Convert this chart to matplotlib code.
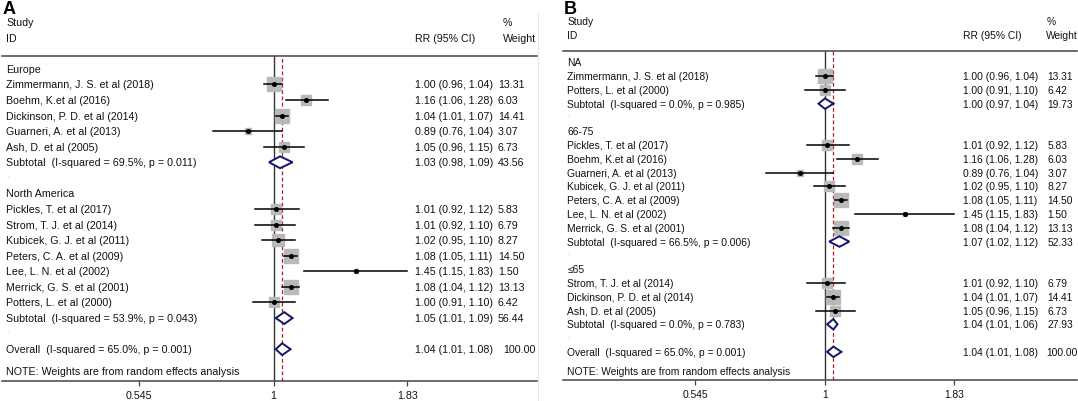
import numpy as np
import matplotlib.pyplot as plt
from matplotlib.lines import Line2D

plt.rcParams['font.family'] = ['Liberation Sans', 'DejaVu Sans']

# study level results: RR, 95% CI and % weight (random effects)
study = ["Zimmermann, J. S. et al (2018)", "Boehm, K.et al (2016)",
         "Dickinson, P. D. et al (2014)", "Guarneri, A. et al (2013)",
         "Ash, D. et al (2005)", "Pickles, T. et al (2017)",
         "Strom, T. J. et al (2014)", "Kubicek, G. J. et al (2011)",
         "Peters, C. A. et al (2009)", "Lee, L. N. et al (2002)",
         "Merrick, G. S. et al (2001)", "Potters, L. et al (2000)"]
rr = [1.00, 1.16, 1.04, 0.89, 1.05, 1.01, 1.01, 1.02, 1.08, 1.45, 1.08, 1.00]
lo = [0.96, 1.06, 1.01, 0.76, 0.96, 0.92, 0.92, 0.95, 1.05, 1.15, 1.04, 0.91]
hi = [1.04, 1.28, 1.07, 1.04, 1.15, 1.12, 1.10, 1.10, 1.11, 1.83, 1.12, 1.10]
wt = [13.31, 6.03, 14.41, 3.07, 6.73, 5.83, 6.79, 8.27, 14.50, 1.50, 13.13, 6.42]

# panel A: by region
groups_a = ["Europe", "North America"]
members_a = [[0, 1, 2, 3, 4], [5, 6, 7, 8, 9, 10, 11]]
sub_i2_a = ["69.5", "53.9"]
sub_p_a = ["0.011", "0.043"]
sub_rr_a = [1.03, 1.05]
sub_lo_a = [0.98, 1.01]
sub_hi_a = [1.09, 1.09]
sub_wt_a = [43.56, 56.44]

# panel B: by age
groups_b = ["NA", "66-75", "\u226465"]
members_b = [[0, 11], [5, 1, 3, 7, 8, 9, 10], [6, 2, 4]]
sub_i2_b = ["0.0", "66.5", "0.0"]
sub_p_b = ["0.985", "0.006", "0.783"]
sub_rr_b = [1.00, 1.07, 1.04]
sub_lo_b = [0.97, 1.02, 1.01]
sub_hi_b = [1.04, 1.12, 1.06]
sub_wt_b = [19.73, 52.33, 27.93]

# overall pooled estimate
overall = [1.04, 1.01, 1.08, 100.00]
overall_i2, overall_p = "65.0", "0.001"

ticks = [0.545, 1, 1.83]
tick_labels = ["0.545", "1", "1.83"]

W, H = 1078, 402
fig = plt.figure(figsize=(W / 100, H / 100), dpi=100)

TXT = "#111111"
BOX = "#b9b9b9"
NAVY = "#15156b"


def rr_text(r, l, h):
    return f"{r:.2f} ({l:.2f}, {h:.2f})"


def diamond(ax, y, r, l, h, hh):
    ax.fill([l, r, h, r, l], [y, y - hh, y, y + hh, y], facecolor="white",
            edgecolor=NAVY, lw=1.4, zorder=4)


def forest(px, xlim, groups, members, s_i2, s_p, s_rr, s_lo, s_hi, s_wt,
           fs, col_x, box_k, label):
    left, right, top, bottom = px
    ax = fig.add_axes([left / W, 1 - bottom / H, (right - left) / W, (bottom - top) / H])
    ax.set_xscale("log")
    ax.set_xlim(*xlim)
    tr = ax.get_yaxis_transform()
    xl, xr, xw, xh = col_x
    hh = 0.38

    def put(x, y, s, **kw):
        ax.text(x, y, s, transform=tr, fontsize=kw.pop("fs", fs),
                color=kw.pop("color", TXT), va="center", **kw)

    row = 0
    for g, idx, i2, p, r, l, h, w in zip(groups, members, s_i2, s_p, s_rr, s_lo, s_hi, s_wt):
        put(xl, row, g)
        row += 1
        for i in idx:
            ax.plot([rr[i]], [row], marker="s", ms=box_k * np.sqrt(wt[i]),
                    color=BOX, mec=BOX, zorder=2)
            ax.plot([lo[i], hi[i]], [row, row], color="black", lw=1.1, zorder=3)
            ax.plot([rr[i]], [row], marker="o", ms=2.6, color="black", zorder=3)
            put(xl, row, study[i])
            put(xr, row, rr_text(rr[i], lo[i], hi[i]))
            put(xw, row, f"{wt[i]:.2f}")
            row += 1
        diamond(ax, row, r, l, h, hh)
        put(xl, row, f"Subtotal  (I-squared = {i2}%, p = {p})")
        put(xr, row, rr_text(r, l, h))
        put(xw, row, f"{w:.2f}")
        row += 1
        put(xl, row - 0.2, ".", fs=fs - 2, color="#9a9a9a")
        row += 1

    r, l, h, w = overall
    diamond(ax, row, r, l, h, hh)
    put(xl, row, f"Overall  (I-squared = {overall_i2}%, p = {overall_p})")
    put(xr, row, rr_text(r, l, h))
    put(xw + (xh - xw), row, f"{w:.2f}")
    put(xl, row + 1.4, "NOTE: Weights are from random effects analysis")

    # header
    put(xl, -3.0, "Study")
    put(xl, -2.0, "ID")
    put(xr, -2.0, "RR (95% CI)")
    put(xh, -3.0, "%")
    put(xh, -2.0, "Weight")

    ax.set_ylim(row + 2.04, -0.82)
    ax.axvline(1, color="#333333", lw=1.0, zorder=1)
    ax.axvline(overall[0], color="#b02020", lw=0.9, dashes=(3, 2), zorder=1)

    for side in ["left", "right"]:
        ax.spines[side].set_visible(False)
    for side in ["top", "bottom"]:
        ax.spines[side].set_color("#444444")
        ax.spines[side].set_linewidth(1.1)
    ax.set_yticks([])
    ax.set_xticks(ticks)
    ax.set_xticklabels(tick_labels)
    ax.xaxis.set_minor_locator(plt.NullLocator())
    ax.tick_params(axis="x", length=3.5, width=0.9, color="#444444", pad=3,
                   labelsize=fs, labelcolor=TXT)
    ax.patch.set_alpha(0)

    fig.text((left + 1) / W, 1 - 9 / H, label, fontsize=13, fontweight="bold",
             va="center", ha="left")
    return ax


forest((2, 537, 57, 382), (0.2937, 3.284), groups_a, members_a, sub_i2_a, sub_p_a,
       sub_rr_a, sub_lo_a, sub_hi_a, sub_wt_a, 7.7, (0.0075, 0.772, 0.927, 0.936), 2.8, "A")
forest((563, 1077, 52, 381), (0.2940, 3.246), groups_b, members_b, sub_i2_b, sub_p_b,
       sub_rr_b, sub_lo_b, sub_hi_b, sub_wt_b, 7.4, (0.0084, 0.778, 0.942, 0.940), 2.7, "B")

# faint separator between the two panels
fig.add_artist(Line2D([538 / W, 538 / W], [0, 1 - 15 / H], color="#e6e6e6", lw=0.8))

plt.savefig("out.png", dpi=100)
